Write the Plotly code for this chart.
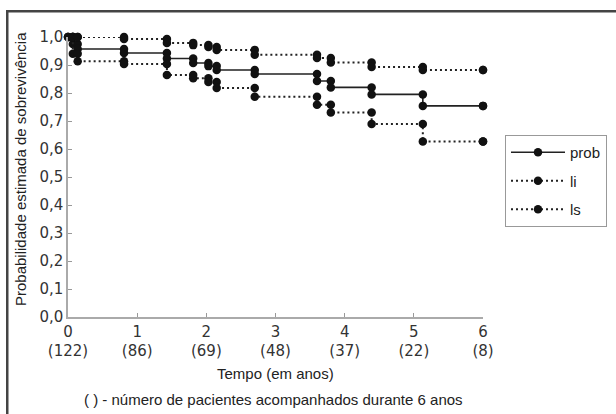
import plotly.graph_objects as go

# Event times (years) and step values for each curve
times = [0, 0.07, 0.14, 0.81, 1.43, 1.81, 2.03, 2.15, 2.70, 3.60, 3.80, 4.39, 5.13, 6.0]
prob = [1.0, 0.975, 0.957, 0.943, 0.923, 0.907, 0.896, 0.882, 0.868, 0.843, 0.820, 0.795, 0.754, 0.754]
li = [1.0, 0.94, 0.913, 0.904, 0.864, 0.853, 0.839, 0.818, 0.787, 0.758, 0.730, 0.689, 0.627, 0.627]
ls = [1.0, 1.0, 1.0, 0.993, 0.979, 0.971, 0.964, 0.954, 0.937, 0.925, 0.909, 0.893, 0.882, 0.882]

x_ticks = [0, 1, 2, 3, 4, 5, 6]
n_pacientes = [122, 86, 69, 48, 37, 22, 8]
y_ticks = [0.0, 0.1, 0.2, 0.3, 0.4, 0.5, 0.6, 0.7, 0.8, 0.9, 1.0]
y_ticklabels = [f"{v:.1f}".replace(".", ",") for v in y_ticks]


def step_xy(ts, vs):
    xs, ys = [ts[0]], [vs[0]]
    for i in range(1, len(ts)):
        xs += [ts[i], ts[i]]
        ys += [vs[i - 1], vs[i]]
    return xs, ys


W, H = 616, 414
ML, MR, MT, MB = 68, 133, 37, 97
pw, ph = W - ML - MR, H - MT - MB


def px(xp):
    return (xp - ML) / pw


def py(yp):
    return (H - MB - yp) / ph


fig = go.Figure()
series = [("prob", prob, "solid", 1.6), ("li", li, "dot", 2), ("ls", ls, "dot", 2)]
for name, vals, dash, w in series:
    xs, ys = step_xy(times, vals)
    fig.add_trace(go.Scatter(
        x=xs, y=ys, name=name, mode="lines+markers", legendgroup=name,
        line=dict(color="#222222", width=w, dash=dash if dash == "solid" else "2px,3px"),
        marker=dict(color="#111111", size=8.5, symbol="circle"),
        cliponaxis=False,
    ))

tick_font = dict(family="DejaVu Sans", size=15, color="#333333")
fig.update_xaxes(
    range=[0, 6], tickvals=x_ticks,
    ticktext=[f"{t}<br>({n})" for t, n in zip(x_ticks, n_pacientes)],
    ticks="inside", ticklen=4, tickcolor="#999999", tickwidth=1,
    showline=True, linecolor="#aaaaaa", linewidth=1.5,
    showgrid=False, zeroline=False, tickfont=tick_font,
)
fig.update_yaxes(
    range=[0, 1.0], tickvals=y_ticks, ticktext=y_ticklabels,
    ticks="inside", ticklen=4, tickcolor="#999999", tickwidth=1,
    showline=True, linecolor="#aaaaaa", linewidth=1.5,
    showgrid=False, zeroline=False, tickfont=tick_font,
)

title_font = dict(family="Liberation Sans", size=15, color="#222222")
fig.add_annotation(text="Probabilidade estimada de sobrevivência", xref="paper", yref="paper",
                   x=px(20), y=py(169), textangle=-90, showarrow=False, font=title_font,
                   xanchor="center", yanchor="middle")
fig.add_annotation(text="Tempo (em anos)", xref="paper", yref="paper",
                   x=px(275), y=py(373), showarrow=False, font=title_font,
                   xanchor="center", yanchor="middle")
fig.add_annotation(text="( ) - número de pacientes acompanhados durante 6 anos", xref="paper", yref="paper",
                   x=px(273), y=py(399), showarrow=False, font=title_font,
                   xanchor="center", yanchor="middle")

# outer frame (top and left edges visible)
fig.add_shape(type="rect", xref="paper", yref="paper",
              x0=px(6), x1=px(616), y0=py(12.5), y1=py(10),
              line=dict(width=0), fillcolor="#444444")
fig.add_shape(type="rect", xref="paper", yref="paper",
              x0=px(6), x1=px(8.5), y0=py(414), y1=py(10),
              line=dict(width=0), fillcolor="#444444")

fig.update_layout(
    width=W, height=H,
    margin=dict(l=ML, r=MR, t=MT, b=MB),
    paper_bgcolor="white", plot_bgcolor="white",
    legend=dict(xref="container", yref="container",
                x=505 / W, y=1 - 135 / H, xanchor="left", yanchor="top",
                bordercolor="#999999", borderwidth=1, bgcolor="white",
                font=dict(family="Liberation Sans", size=15, color="#222222"),
                tracegroupgap=6, itemwidth=54),
    showlegend=True,
)

fig.write_html("out.html", config={"displayModeBar": False},
               post_script="document.body.style.margin='0';")
